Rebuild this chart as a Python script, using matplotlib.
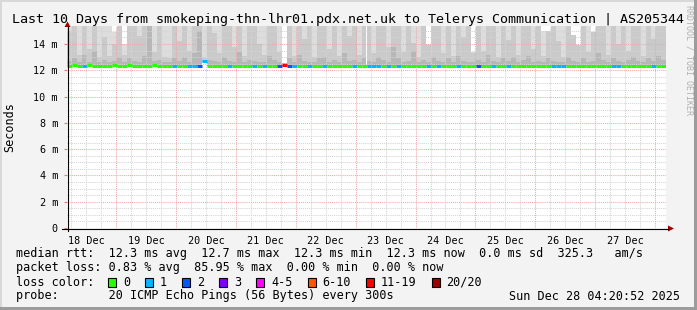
import numpy as np
import pandas as pd
import matplotlib
matplotlib.use('Agg')
import matplotlib.pyplot as plt
import matplotlib.dates as mdates
from matplotlib.patches import Rectangle, Polygon
from datetime import datetime, timedelta

plt.rcParams['font.family'] = 'DejaVu Sans Mono'

# time range of the graph, 2 hour bins
start = datetime(2025, 12, 18, 4, 20, 52)
end = datetime(2025, 12, 28, 4, 20, 52)
bin_hours = 2

# smoke: top of outer (light) layer, middle layer, inner (dark) layer, in ms
smoke_hi = [16, 16, 16, 16, 16, 16, 16, 16, 16, 14.9,
            16, 14.0, 16, 16, 16, 16, 16, 16, 16, 16,
            16, 16, 16, 16, 16, 16, 16, 16, 16, 16,
            16, 16, 16, 16, 16, 16, 16, 16, 16, 16,
            16, 16, 16, 12.55, 16, 16, 16, 16, 16, 16,
            16, 16, 16, 16, 16, 16, 16, 16, 16, 16,
            16, 16, 16, 16, 16, 16, 16, 16, 16, 16,
            16, 16, 14.0, 16, 16, 16, 16, 16, 16, 16,
            16, 13.4, 16, 16, 16, 16, 16, 16, 16, 16,
            16, 16, 16, 16, 16, 15.0, 15.0, 16, 16, 16,
            16, 14.7, 13.9, 16, 16, 14.9, 16, 16, 16, 16,
            16, 16, 16, 16, 16, 16, 16, 16, 16, 16]

smoke_mid = [15.0, 16, 13.2, 16, 13.6, 16, 13.0, 14.5, 13.1, 14.0,
             16, 13.2, 16, 16, 14.6, 16, 16, 13.4, 16, 13.0,
             12.9, 16, 14.2, 16, 13.5, 16, 16, 13.0, 16, 14.8,
             13.3, 16, 16, 13.8, 16, 13.1, 16, 16, 14.0, 13.2,
             16, 16, 13.4, 12.55, 16, 13.1, 16, 14.4, 16, 13.0,
             16, 16, 13.6, 16, 13.1, 16, 14.6, 16, 13.2, 16,
             16, 13.3, 16, 16, 13.8, 16, 16, 13.4, 16, 14.1,
             13.0, 16, 13.9, 16, 16, 13.3, 16, 13.1, 16, 14.5,
             16, 13.3, 16, 13.5, 16, 16, 13.0, 16, 14.3, 16,
             13.2, 16, 16, 13.6, 16, 13.1, 15.0, 16, 14.2, 13.0,
             16, 14.7, 13.9, 16, 13.4, 14.9, 16, 16, 13.2, 16,
             14.0, 16, 13.5, 16, 16, 13.1, 16, 14.4, 16, 16]

smoke_low = [12.7, 12.9, 12.6, 13.2, 12.6, 13.5, 12.6, 12.8, 12.6, 12.7,
             13.0, 12.6, 12.9, 12.7, 12.6, 13.1, 16, 12.7, 12.8, 12.6,
             12.6, 12.9, 12.7, 13.0, 12.6, 13.3, 15.0, 12.6, 12.8, 12.7,
             12.6, 13.0, 12.7, 12.6, 13.4, 12.6, 12.8, 12.7, 12.6, 12.6,
             13.1, 12.8, 12.6, 12.55, 12.9, 12.6, 13.2, 12.7, 12.6, 12.6,
             12.9, 13.0, 12.6, 12.8, 12.6, 13.3, 12.7, 12.8, 12.6, 12.9,
             12.7, 12.6, 13.0, 12.8, 12.6, 13.8, 12.9, 12.6, 12.7, 13.5,
             12.6, 12.8, 12.6, 13.0, 12.7, 12.6, 12.9, 12.6, 13.1, 12.7,
             12.6, 12.6, 12.8, 12.6, 13.2, 12.7, 12.6, 12.9, 12.7, 13.0,
             12.6, 12.8, 13.1, 12.6, 12.7, 12.6, 12.9, 12.7, 12.6, 12.6,
             13.0, 12.7, 12.6, 12.9, 12.6, 12.7, 13.3, 12.8, 12.6, 12.9,
             12.7, 12.6, 12.8, 13.0, 12.7, 12.6, 12.9, 12.7, 13.1, 12.8]

median_rtt = [12.35, 12.4, 12.35, 12.35, 12.4, 12.35, 12.35, 12.3, 12.35, 12.4,
              12.35, 12.35, 12.4, 12.35, 12.3, 12.35, 12.35, 12.4, 12.35, 12.35,
              12.3, 12.35, 12.3, 12.3, 12.3, 12.3, 12.3, 12.7, 12.3, 12.3,
              12.3, 12.35, 12.3, 12.3, 12.3, 12.35, 12.3, 12.3, 12.3, 12.3,
              12.3, 12.35, 12.3, 12.4, 12.3, 12.3, 12.35, 12.3, 12.3, 12.3,
              12.3, 12.3, 12.35, 12.3, 12.3, 12.3, 12.3, 12.3, 12.35, 12.3,
              12.3, 12.3, 12.3, 12.35, 12.3, 12.3, 12.3, 12.3, 12.3, 12.35,
              12.3, 12.3, 12.3, 12.3, 12.3, 12.35, 12.3, 12.3, 12.3, 12.3,
              12.3, 12.3, 12.3, 12.3, 12.35, 12.3, 12.3, 12.3, 12.3, 12.3,
              12.3, 12.35, 12.3, 12.3, 12.3, 12.3, 12.3, 12.3, 12.3, 12.35,
              12.3, 12.3, 12.3, 12.3, 12.3, 12.35, 12.3, 12.3, 12.3, 12.3,
              12.3, 12.3, 12.35, 12.3, 12.3, 12.3, 12.3, 12.3, 12.3, 12.3]

# lost pings out of 20 per bin
loss = [0, 0, 0, 1, 0, 0, 0, 0, 0, 0,
        0, 0, 0, 0, 0, 0, 0, 0, 0, 0,
        0, 1, 0, 0, 1, 1, 2, 1, 0, 0,
        0, 0, 1, 0, 0, 0, 0, 1, 0, 1,
        0, 0, 2, 17, 2, 1, 0, 0, 1, 0,
        0, 1, 0, 0, 0, 0, 0, 1, 0, 0,
        1, 1, 1, 0, 1, 0, 1, 0, 0, 0,
        0, 0, 1, 0, 1, 0, 0, 0, 1, 0,
        0, 0, 2, 0, 0, 1, 0, 0, 1, 0,
        0, 0, 0, 0, 0, 0, 0, 1, 1, 1,
        0, 0, 0, 0, 0, 0, 0, 0, 0, 1,
        1, 0, 0, 0, 0, 0, 0, 1, 0, 0]

loss_labels = ['0', '1', '2', '3', '4-5', '6-10', '11-19', '20/20']
loss_colors = ['#26ff00', '#00b8ff', '#0059ff', '#7e00ff', '#ff00ff', '#ff5500', '#ff0000', '#a10000']

y_ticks = [0, 2, 4, 6, 8, 10, 12, 14]
y_tick_labels = ['0', '2 m', '4 m', '6 m', '8 m', '10 m', '12 m', '14 m']

legend_lines = [
    'median rtt:  12.3 ms avg  12.7 ms max  12.3 ms min  12.3 ms now  0.0 ms sd  325.3   am/s',
    'packet loss: 0.83 % avg  85.95 % max  0.00 % min  0.00 % now',
]
title = 'Last 10 Days from smokeping-thn-lhr01.pdx.net.uk to Telerys Communication | AS205344'


def loss_color(n):
    if n == 0:
        return loss_colors[0]
    if n <= 3:
        return loss_colors[n]
    if n <= 5:
        return loss_colors[4]
    if n <= 10:
        return loss_colors[5]
    if n <= 19:
        return loss_colors[6]
    return loss_colors[7]


W, H = 697, 310
fig = plt.figure(figsize=(W / 100, H / 100), dpi=100)
fig.patch.set_facecolor('#f3f3f3')
ax = fig.add_axes([67 / W, (H - 228) / H, 599 / W, 202 / H])
ax.set_facecolor('white')

t = mdates.date2num([start + timedelta(hours=bin_hours * i) for i in range(len(median_rtt))])
bw = bin_hours / 24
med = np.array(median_rtt)

# smoke layers, outer to inner
for vals, col in [(smoke_hi, '#dddddd'), (smoke_mid, '#cacaca'), (smoke_low, '#b7b7b7')]:
    ax.bar(t, np.array(vals) - med, bottom=med, width=bw, align='edge',
           color=col, linewidth=0, antialiased=False, zorder=1)

# grid
for y in np.arange(0.5, 15.5, 0.5):
    major = y % 2 == 0
    ax.axhline(y, color='#f0a8a8' if major else '#d4d4d4', lw=0.75,
               ls=(0, (1, 1)), zorder=2)
for d in pd.date_range('2025-12-18 06:00', '2025-12-28 00:00', freq='6h'):
    major = d.hour == 0
    ax.axvline(mdates.date2num(d), color='#f0a8a8' if major else '#d4d4d4', lw=0.75,
               ls=(0, (1, 1)), zorder=2)

# median line coloured by loss
ax.hlines(med, t, t + bw, colors=[loss_color(n) for n in loss], lw=2.2, zorder=4)

ax.set_xlim(mdates.date2num(start), mdates.date2num(end))
ax.set_ylim(0, 15.37)
for s in ax.spines.values():
    s.set_visible(False)

noons = pd.date_range('2025-12-18 12:00', '2025-12-27 12:00', freq='D')
ax.set_xticks(mdates.date2num(noons))
ax.set_xticklabels([d.strftime('%d %b') for d in noons], fontsize=7.3)
ax.tick_params(axis='x', length=0, pad=6)
ax.set_yticks(y_ticks)
ax.set_yticklabels(y_tick_labels, fontsize=7.3)
ax.tick_params(axis='y', length=2.5, color='#e08080', pad=4)

# overlay in pixel coordinates for frame, axes arrows and legend
ov = fig.add_axes([0, 0, 1, 1], zorder=10)
ov.set_xlim(0, W)
ov.set_ylim(H, 0)
ov.axis('off')
ov.patch.set_visible(False)

ov.add_patch(Rectangle((0, 0), W, 2, color='#d8d8d8', lw=0))
ov.add_patch(Rectangle((0, 0), 2, H, color='#d8d8d8', lw=0))
ov.add_patch(Rectangle((0, H - 3), W, 3, color='#9c9c9c', lw=0))
ov.add_patch(Rectangle((W - 3, 0), 3, H, color='#9c9c9c', lw=0))

ov.plot([62, 668], [228.5, 228.5], color='black', lw=0.8)
ov.plot([67.5, 67.5], [231, 27], color='black', lw=0.8)
ov.add_patch(Polygon([(668, 225.5), (668, 231.5), (674, 228.5)], color='#a00000', lw=0))
ov.add_patch(Polygon([(64.5, 27), (70.5, 27), (67.5, 21.5)], color='#a00000', lw=0))

ov.text(W / 2, 19, title, ha='center', va='center', fontsize=9.6)
ov.text(10, 127, 'Seconds', rotation=90, ha='center', va='center', fontsize=8.5)
ov.text(689, 5, 'RRDTOOL / TOBI OETIKER', rotation=270, ha='center', va='top',
        fontsize=6, color='#b0b0b0')

fs = 8.5
ov.text(16, 254, legend_lines[0], va='center', fontsize=fs)
ov.text(16, 268, legend_lines[1], va='center', fontsize=fs)
ov.text(16, 282, 'loss color:', va='center', fontsize=fs)
bx = 108
for lab, col in zip(loss_labels, loss_colors):
    ov.add_patch(Rectangle((bx, 278), 8, 9, facecolor=col, edgecolor='black', lw=0.8))
    ov.text(bx + 15, 282, lab, va='center', fontsize=fs)
    bx += 30 + 7.1 * len(lab)
ov.text(16, 296, 'probe:       20 ICMP Echo Pings (56 Bytes) every 300s', va='center', fontsize=fs)
ov.text(680, 296, 'Sun Dec 28 04:20:52 2025', ha='right', va='center', fontsize=fs)

fig.savefig('out.png', dpi=100, facecolor=fig.get_facecolor())
